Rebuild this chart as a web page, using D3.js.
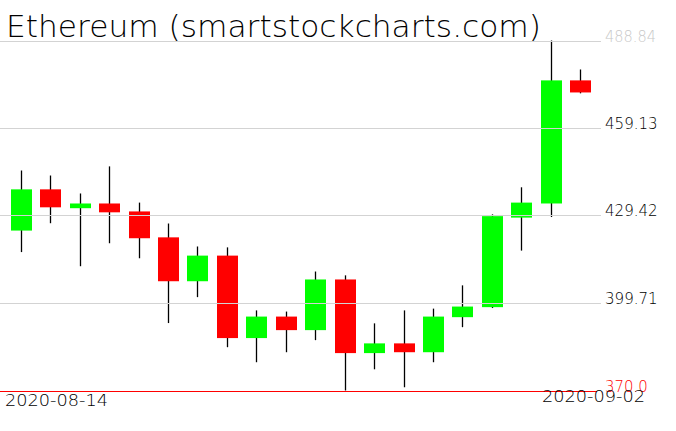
<!DOCTYPE html>
<html>
<head>
<meta charset="utf-8">
<script src="https://cdn.jsdelivr.net/npm/d3@7"></script>
<style>
  html, body { margin: 0; padding: 0; background: #fff; }
  svg { display: block; }
  text { font-family: "DejaVu Sans", sans-serif; font-weight: 200; }
</style>
</head>
<body>
<svg id="chart" width="676" height="431"></svg>
<script>
const dates = ["2020-08-14","2020-08-15","2020-08-16","2020-08-17","2020-08-18","2020-08-19","2020-08-20",
  "2020-08-21","2020-08-22","2020-08-23","2020-08-24","2020-08-25","2020-08-26","2020-08-27","2020-08-28",
  "2020-08-29","2020-08-30","2020-08-31","2020-09-01","2020-09-02"];
const openVals  = [424.3, 438.3, 431.9, 433.5, 430.8, 422.0, 407.1, 415.8, 387.8, 395.1, 390.5, 407.7, 382.7, 386.0, 383.0, 394.9, 398.3, 428.7, 433.5, 475.3];
const highVals  = [444.7, 443.0, 436.9, 446.1, 433.8, 426.7, 418.9, 418.6, 397.2, 396.8, 410.4, 409.1, 392.8, 397.2, 397.8, 405.7, 429.8, 439.0, 488.84, 479.0];
const lowVals   = [417.0, 426.8, 412.2, 420.0, 414.9, 392.9, 401.7, 384.7, 379.6, 383.0, 387.1, 370.0, 377.2, 371.1, 379.6, 391.5, 398.0, 417.5, 428.9, 470.9];
const closeVals = [438.3, 432.2, 433.5, 430.5, 421.7, 407.1, 415.8, 387.8, 395.1, 390.5, 407.7, 382.7, 386.0, 383.0, 395.1, 398.5, 429.2, 433.8, 475.3, 471.2];
const tickVals   = [488.84, 459.13, 429.42, 399.71, 370.0];
const tickLabels = ["488.84", "459.13", "429.42", "399.71", "370.0"];
const title = "Ethereum (smartstockcharts.com)";

const svg = d3.select("#chart");
const x = d3.scalePoint().domain(dates).range([6, 595]).padding(0.5);
const y = d3.scaleLinear().domain([370, 488.84]).range([390.5, 40.5]);
const bodyW = 21;
const data = dates.map((d, i) => ({d, o: openVals[i], h: highVals[i], l: lowVals[i], c: closeVals[i]}));

// wicks
svg.append("g").selectAll("line").data(data).join("line")
  .attr("x1", d => Math.round(x(d.d)) + 0.5).attr("x2", d => Math.round(x(d.d)) + 0.5)
  .attr("y1", d => y(d.h)).attr("y2", d => y(d.l))
  .attr("stroke", "#000").attr("stroke-width", 1.3);

// bodies
svg.append("g").selectAll("rect").data(data).join("rect")
  .attr("x", d => Math.round(x(d.d)) + 0.5 - bodyW / 2)
  .attr("width", bodyW)
  .attr("y", d => y(Math.max(d.o, d.c)))
  .attr("height", d => Math.max(1, Math.abs(y(d.o) - y(d.c))))
  .attr("fill", d => d.c >= d.o ? "#00ff00" : "#ff0000");

// gridlines (drawn over the candles)
const grid = svg.append("g");
tickVals.forEach((v, i) => {
  const yy = Math.round(y(v)) + 0.5;
  const last = i === tickVals.length - 1;
  grid.append("line")
    .attr("x1", 0).attr("x2", last ? 597 : 601)
    .attr("y1", yy).attr("y2", yy)
    .attr("stroke", last ? "#ff0000" : "#d3d3d3").attr("stroke-width", 1);
});

// tick labels
const labelW = [51, 52.7, 52.7, 52.7, 42.7];
const labelColor = ["#c8c8c8", "#000", "#000", "#000", "#ff0000"];
tickVals.forEach((v, i) => {
  svg.append("text")
    .attr("x", 605).attr("y", Math.round(y(v)) + 1)
    .attr("font-size", 15)
    .attr("fill", labelColor[i])
    .attr("textLength", labelW[i]).attr("lengthAdjust", "spacingAndGlyphs")
    .text(tickLabels[i]);
});

// date labels
svg.append("text").attr("x", 5).attr("y", 406).attr("font-size", 15).attr("fill", "#000")
  .attr("textLength", 103).attr("lengthAdjust", "spacingAndGlyphs").text(dates[0]);
svg.append("text").attr("x", 542).attr("y", 402).attr("font-size", 15).attr("fill", "#000")
  .attr("textLength", 103).attr("lengthAdjust", "spacingAndGlyphs").text(dates[dates.length - 1]);

// title
svg.append("text").attr("x", 6).attr("y", 37).attr("font-size", 30).attr("fill", "#000")
  .attr("textLength", 535).attr("lengthAdjust", "spacingAndGlyphs").text(title);
</script>
</body>
</html>
